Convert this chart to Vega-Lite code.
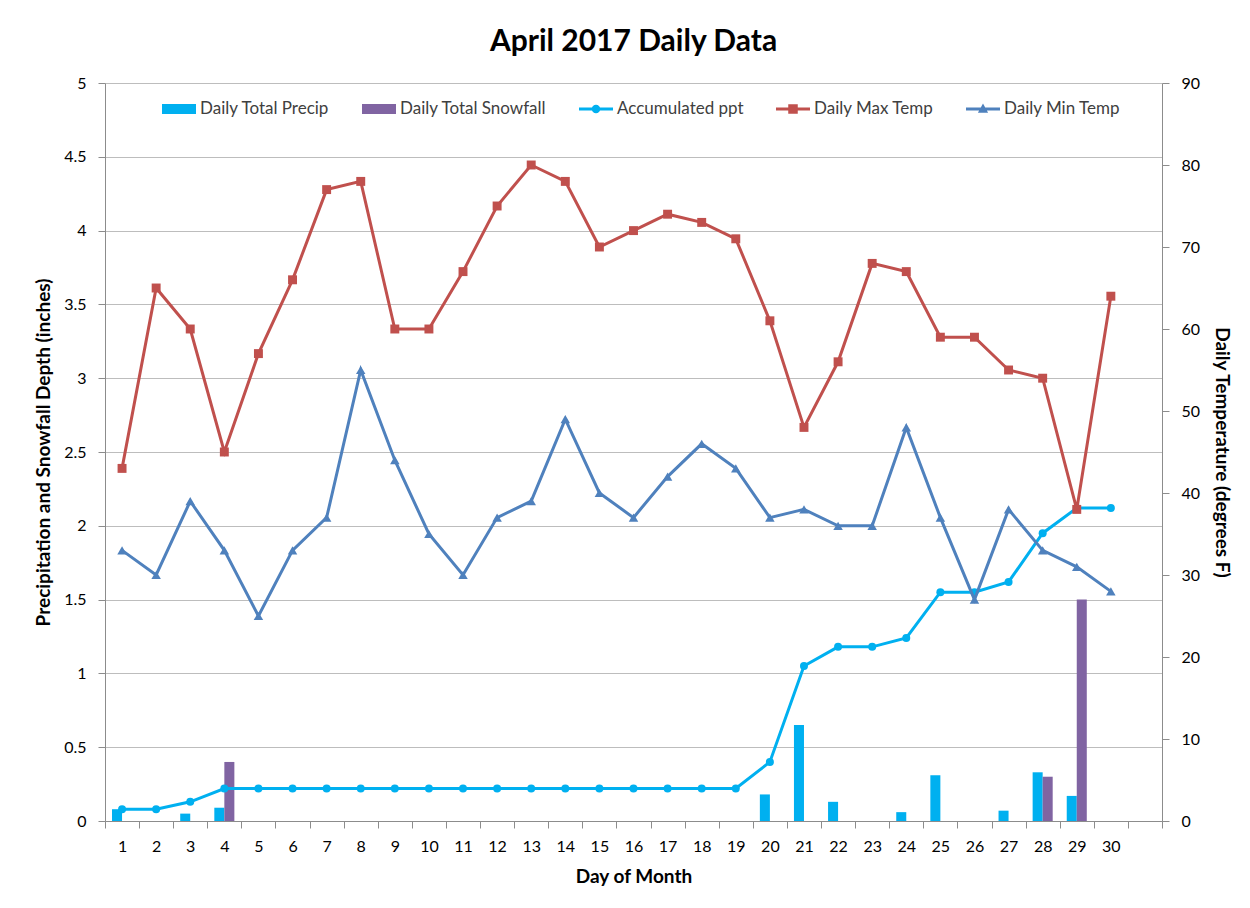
{
  "$schema": "https://vega.github.io/schema/vega-lite/v6.json",
  "width": 1057,
  "height": 738,
  "autosize": {"type": "none"},
  "padding": {"left": 105, "top": 83, "right": 88, "bottom": 87},
  "background": "white",
  "title": {"text": "April 2017 Daily Data", "font": "Lato", "fontSize": 30, "fontWeight": "bold", "color": "#000000", "anchor": "middle", "offset": 18},
  "config": {
    "font": "Lato",
    "view": {"stroke": null},
    "axis": {
      "domainColor": "#8c8c8c", "tickColor": "#8c8c8c", "tickSize": 7,
      "labelColor": "#000000", "labelFontSize": 16, "labelFont": "Lato",
      "titleFontSize": 19, "titleFontWeight": "bold", "titleColor": "#000000", "titleFont": "Lato",
      "gridColor": "#bdbdbd", "labelPadding": 12
    }
  },
  "data": {
    "values": [
      {"day": 1, "precip": 0.08, "snow": 0, "accum": 0.08, "tmax": 43, "tmin": 33},
      {"day": 2, "precip": 0, "snow": 0, "accum": 0.08, "tmax": 65, "tmin": 30},
      {"day": 3, "precip": 0.05, "snow": 0, "accum": 0.13, "tmax": 60, "tmin": 39},
      {"day": 4, "precip": 0.09, "snow": 0.4, "accum": 0.22, "tmax": 45, "tmin": 33},
      {"day": 5, "precip": 0, "snow": 0, "accum": 0.22, "tmax": 57, "tmin": 25},
      {"day": 6, "precip": 0, "snow": 0, "accum": 0.22, "tmax": 66, "tmin": 33},
      {"day": 7, "precip": 0, "snow": 0, "accum": 0.22, "tmax": 77, "tmin": 37},
      {"day": 8, "precip": 0, "snow": 0, "accum": 0.22, "tmax": 78, "tmin": 55},
      {"day": 9, "precip": 0, "snow": 0, "accum": 0.22, "tmax": 60, "tmin": 44},
      {"day": 10, "precip": 0, "snow": 0, "accum": 0.22, "tmax": 60, "tmin": 35},
      {"day": 11, "precip": 0, "snow": 0, "accum": 0.22, "tmax": 67, "tmin": 30},
      {"day": 12, "precip": 0, "snow": 0, "accum": 0.22, "tmax": 75, "tmin": 37},
      {"day": 13, "precip": 0, "snow": 0, "accum": 0.22, "tmax": 80, "tmin": 39},
      {"day": 14, "precip": 0, "snow": 0, "accum": 0.22, "tmax": 78, "tmin": 49},
      {"day": 15, "precip": 0, "snow": 0, "accum": 0.22, "tmax": 70, "tmin": 40},
      {"day": 16, "precip": 0, "snow": 0, "accum": 0.22, "tmax": 72, "tmin": 37},
      {"day": 17, "precip": 0, "snow": 0, "accum": 0.22, "tmax": 74, "tmin": 42},
      {"day": 18, "precip": 0, "snow": 0, "accum": 0.22, "tmax": 73, "tmin": 46},
      {"day": 19, "precip": 0, "snow": 0, "accum": 0.22, "tmax": 71, "tmin": 43},
      {"day": 20, "precip": 0.18, "snow": 0, "accum": 0.40, "tmax": 61, "tmin": 37},
      {"day": 21, "precip": 0.65, "snow": 0, "accum": 1.05, "tmax": 48, "tmin": 38},
      {"day": 22, "precip": 0.13, "snow": 0, "accum": 1.18, "tmax": 56, "tmin": 36},
      {"day": 23, "precip": 0, "snow": 0, "accum": 1.18, "tmax": 68, "tmin": 36},
      {"day": 24, "precip": 0.06, "snow": 0, "accum": 1.24, "tmax": 67, "tmin": 48},
      {"day": 25, "precip": 0.31, "snow": 0, "accum": 1.55, "tmax": 59, "tmin": 37},
      {"day": 26, "precip": 0, "snow": 0, "accum": 1.55, "tmax": 59, "tmin": 27},
      {"day": 27, "precip": 0.07, "snow": 0, "accum": 1.62, "tmax": 55, "tmin": 38},
      {"day": 28, "precip": 0.33, "snow": 0.3, "accum": 1.95, "tmax": 54, "tmin": 33},
      {"day": 29, "precip": 0.17, "snow": 1.5, "accum": 2.12, "tmax": 38, "tmin": 31},
      {"day": 30, "precip": 0, "snow": 0, "accum": 2.12, "tmax": 64, "tmin": 28}
    ]
  },
  "encoding": {
    "x": {
      "field": "day", "type": "ordinal",
      "scale": {"domain": [1,2,3,4,5,6,7,8,9,10,11,12,13,14,15,16,17,18,19,20,21,22,23,24,25,26,27,28,29,30,31], "paddingInner": 0, "paddingOuter": 0},
      "axis": {"title": "Day of Month", "labelAngle": 0, "tickBand": "extent", "labelPadding": 10, "titlePadding": 13, "labelExpr": "datum.value == 31 ? '' : datum.label"}
    }
  },
  "layer": [
    {
      "layer": [
        {
          "transform": [{"fold": ["precip", "snow"], "as": ["series", "value"]}],
          "mark": {"type": "bar"},
          "encoding": {
            "xOffset": {"field": "series", "type": "nominal", "scale": {"domain": ["precip", "snow"], "paddingInner": 0, "paddingOuter": 0.7}},
            "y": {"field": "value", "type": "quantitative", "scale": {"domain": [0, 5], "nice": false},
              "axis": {"title": "Precipitation and Snowfall Depth (inches)", "orient": "left", "values": [0,0.5,1,1.5,2,2.5,3,3.5,4,4.5,5], "format": "~g", "grid": true, "titlePadding": 10}},
            "color": {
              "field": "series", "type": "nominal",
              "scale": {"domain": ["precip", "snow", "accum", "tmax", "tmin"], "range": ["#00B0F0", "#8064A2", "#00B0F0", "#C0504D", "#4F81BD"]},
              "legend": {
                "title": null, "orient": "none", "legendX": 57, "legendY": 9, "direction": "horizontal", "columns": 5,
                "padding": 0, "columnPadding": 32, "labelOffset": 4, "labelFont": "Lato", "labelFontSize": 17, "labelColor": "#404040",
                "symbolSize": 1156,
                "labelExpr": "datum.value == 'precip' ? 'Daily Total Precip' : datum.value == 'snow' ? 'Daily Total Snowfall' : datum.value == 'accum' ? 'Accumulated ppt' : datum.value == 'tmax' ? 'Daily Max Temp' : 'Daily Min Temp'",
                "encode": {
                  "symbols": {
                    "update": {
                      "shape": {"signal": "datum.value == 'precip' || datum.value == 'snow' ? 'M-1,-0.3H1V0.3H-1Z' : datum.value == 'accum' ? 'M-1,-0.09H1V0.09H-1Z M-0.25,0A0.25,0.25 0 1,1 0.25,0A0.25,0.25 0 1,1 -0.25,0Z' : datum.value == 'tmax' ? 'M-1,-0.09H1V0.09H-1Z M-0.28,-0.28H0.28V0.28H-0.28Z' : 'M-1,-0.09H1V0.09H-1Z M0,-0.32L0.3,0.22H-0.3Z'"},
                      "fill": {"scale": "color", "field": "value"},
                      "stroke": {"value": "transparent"},
                      "strokeWidth": {"value": 0},
                      "opacity": {"value": 1},
                      "fillOpacity": {"value": 1},
                      "size": {"value": 1156}
                    }
                  }
                }
              }
            }
          }
        },
        {
          "mark": {"type": "line", "strokeWidth": 3, "point": {"filled": true, "size": 64, "shape": "circle"}},
          "encoding": {
            "y": {"field": "accum", "type": "quantitative", "scale": {"domain": [0, 5], "nice": false}, "axis": {"title": "Precipitation and Snowfall Depth (inches)"}},
            "color": {"datum": "accum"}
          }
        }
      ]
    },
    {
      "layer": [
        {
          "mark": {"type": "line", "strokeWidth": 3, "point": {"filled": true, "size": 80, "shape": "square"}},
          "encoding": {
            "y": {"field": "tmax", "type": "quantitative", "scale": {"domain": [0, 90], "nice": false},
              "axis": {"title": "Daily Temperature (degrees F)", "orient": "right", "values": [0,10,20,30,40,50,60,70,80,90], "grid": false, "titlePadding": 12}},
            "color": {"datum": "tmax"}
          }
        },
        {
          "mark": {"type": "line", "strokeWidth": 3, "point": {"filled": true, "size": 90, "shape": "triangle-up"}},
          "encoding": {
            "y": {"field": "tmin", "type": "quantitative", "scale": {"domain": [0, 90], "nice": false}, "axis": {"title": "Daily Temperature (degrees F)"}},
            "color": {"datum": "tmin"}
          }
        }
      ]
    }
  ],
  "resolve": {"scale": {"y": "independent"}}
}
